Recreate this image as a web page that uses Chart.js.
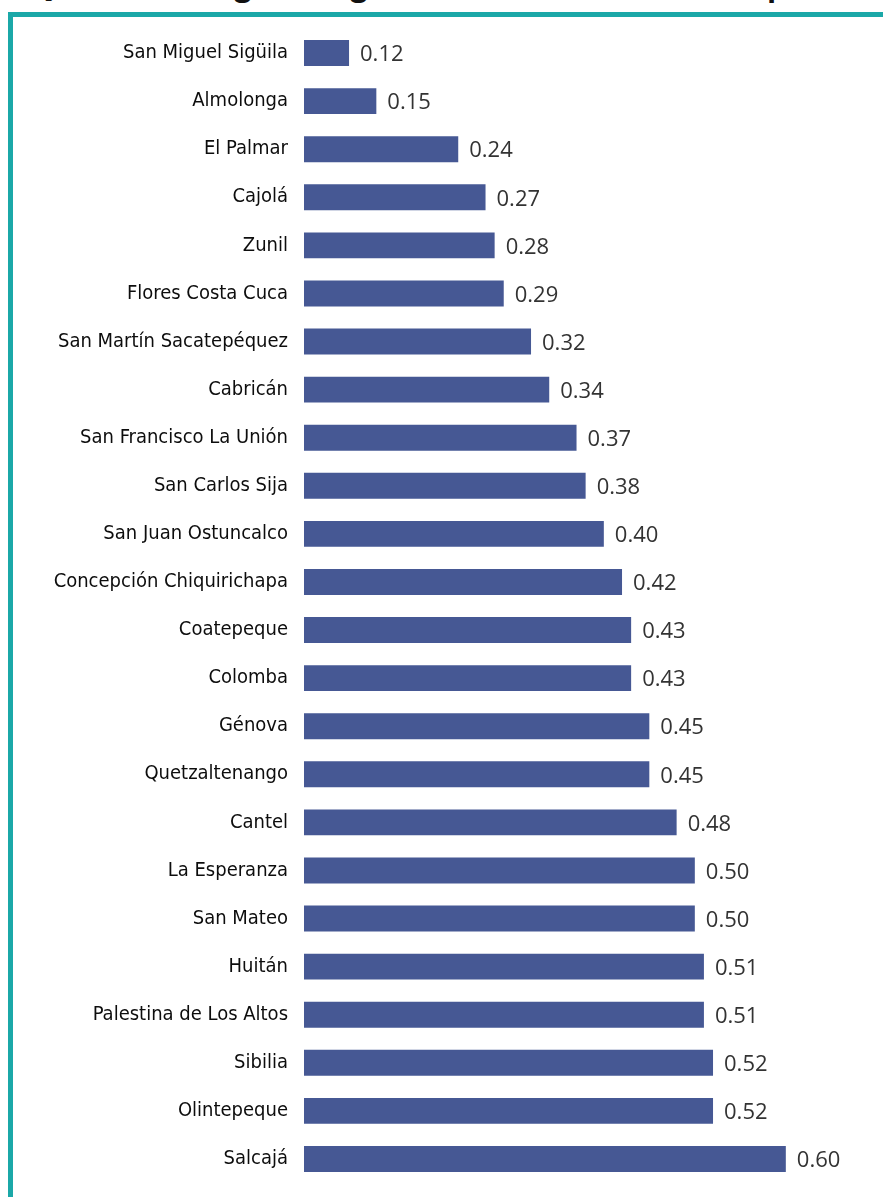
<!DOCTYPE html>
<html>
<head>
<meta charset="utf-8">
<script src="https://cdn.jsdelivr.net/npm/chart.js@4.4.0/dist/chart.umd.min.js"></script>
<style>
  html, body { margin: 0; padding: 0; background: #fff; }
  body { width: 883px; height: 1197px; position: relative; overflow: hidden; }
  #title {
    position: absolute; left: 30px; top: -36px; white-space: nowrap;
    font: bold 30px "Open Sans", sans-serif; color: #111;
  }
  #frame {
    position: absolute; left: 8px; top: 12px; right: -10px; bottom: -10px;
    border-left: 5px solid #1ba8a8; border-top: 5px solid #1ba8a8;
  }
  #wrap { position: absolute; left: 0; top: 0; width: 883px; height: 1211px; }
</style>
</head>
<body>
<div id="title">Quetzaltenango: rezago en el desarrollo humano por municipio (proporción)</div>
<div id="frame"></div>
<div id="wrap"><canvas id="chart"></canvas></div>
<script>
  const municipios = [
    "San Miguel Sigüila", "Almolonga", "El Palmar", "Cajolá", "Zunil",
    "Flores Costa Cuca", "San Martín Sacatepéquez", "Cabricán",
    "San Francisco La Unión", "San Carlos Sija", "San Juan Ostuncalco",
    "Concepción Chiquirichapa", "Coatepeque", "Colomba", "Génova",
    "Quetzaltenango", "Cantel", "La Esperanza", "San Mateo", "Huitán",
    "Palestina de Los Altos", "Sibilia", "Olintepeque", "Salcajá"
  ];
  const valores = [
    0.12, 0.15, 0.24, 0.27, 0.28, 0.29, 0.32, 0.34, 0.37, 0.38, 0.40, 0.42,
    0.43, 0.43, 0.45, 0.45, 0.48, 0.50, 0.50, 0.51, 0.51, 0.52, 0.52, 0.60
  ];

  // etiquetas de valor al final de cada barra
  const valueLabels = {
    id: 'valueLabels',
    afterDatasetsDraw(chart) {
      const ctx = chart.ctx;
      const meta = chart.getDatasetMeta(0);
      ctx.save();
      ctx.font = '22px "Open Sans", sans-serif';
      ctx.fillStyle = '#333';
      ctx.textBaseline = 'middle';
      meta.data.forEach((bar, i) => {
        ctx.fillText(valores[i].toFixed(2), bar.x + 11, bar.y + 2);
      });
      ctx.restore();
    }
  };

  const ctx = document.getElementById('chart').getContext('2d');
  new Chart(ctx, {
    type: 'bar',
    data: {
      labels: municipios,
      datasets: [{
        data: valores,
        backgroundColor: '#465894',
        barPercentage: 0.54,
        categoryPercentage: 1.0
      }]
    },
    options: {
      indexAxis: 'y',
      responsive: true,
      maintainAspectRatio: false,
      animation: false,
      layout: { padding: { top: 29, bottom: 0, left: 0, right: 8 } },
      plugins: { legend: { display: false }, tooltip: { enabled: false } },
      scales: {
        x: {
          display: false,
          min: 0.0705,
          max: 0.698
        },
        y: {
          afterFit: (scale) => { scale.width = 304; },
          grid: { display: false, drawTicks: false },
          border: { display: false },
          ticks: {
            padding: 16,
            color: '#0d0d0d',
            font: { family: '"Liberation Sans Narrow", "DejaVu Sans Condensed", sans-serif', size: 20 }
          }
        }
      }
    },
    plugins: [valueLabels]
  });
</script>
</body>
</html>
